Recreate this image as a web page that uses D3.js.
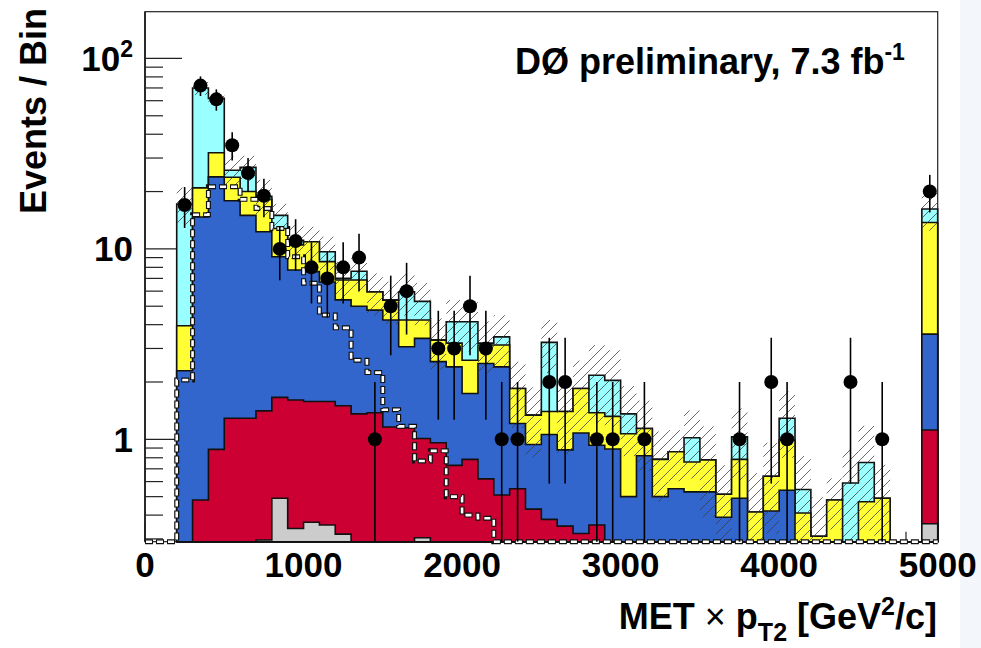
<!DOCTYPE html>
<html>
<head>
<meta charset="utf-8">
<script src="https://cdn.jsdelivr.net/npm/d3@7/dist/d3.min.js"></script>
<style>
body { margin: 0; background: #fff; }
svg { display: block; }
text { font-family: "Liberation Sans", Arial, Helvetica, sans-serif; font-weight: bold; fill: #000; }
</style>
</head>
<body>
<svg id="chart" width="981" height="648"></svg>
<script>
// bins of 100 GeV^2/c, low edges
var binLow = [200, 300, 400, 500, 600, 700, 800, 900, 1000, 1100, 1200, 1300, 1400, 1500, 1600, 1700,
	1800, 1900, 2000, 2100, 2200, 2300, 2400, 2500, 2600, 2700, 2800, 2900, 3000, 3100, 3200, 3300,
	3400, 3500, 3600, 3700, 3800, 3900, 4000, 4100, 4200, 4300, 4400, 4500, 4600, 4700, 4800, 4900];
var binWidth = 100;

// stacked backgrounds, cumulative heights as drawn (each includes everything below it)
var stackCyan = [17.2, 70, 61.7, 25.9, 26.8, 18.9, 15.0, 11.1, 10.9, 9.66, 7.0, 7.63, 5.95, 5.38, 5.95, 5.3,
	3.32, 4.14, 4.14, 3.2, 3.45, 1.85, 1.34, 3.23, 1.40, 1.85, 2.17, 2.04, 1.36, 1.14, 0.785, 0.86,
	1.02, 0.78, 0.515, 1.03, 0.415, 0.64, 1.29, 0.545, 0.31, 0.48, 0.59, 0.755, 0.49, 0, 0, 16.2];
var stackYellow = [3.95, 20.9, 32, 23.8, 20, 18.2, 12.8, 10.5, 10.9, 8.57, 6.86, 6.86, 5.95, 5.38, 4.23, 4.23,
	3.32, 3.2, 2.6, 3.13, 3.13, 1.85, 1.34, 1.40, 1.40, 1.85, 1.38, 1.32, 1.07, 1.14, 0.785, 0.86,
	0.76, 0.78, 0.515, 0.785, 0.415, 0.64, 0.99, 0.41, 0.31, 0.48, 0, 0.47, 0.49, 0, 0, 13.75];
var stackBlue = [2.29, 14.7, 23.9, 17.9, 15, 12.3, 9.1, 7.75, 7.6, 6.7, 5.4, 5.0, 4.77, 4.23, 3.06, 3.39,
	2.56, 2.4, 1.74, 2.5, 2.4, 1.21, 0.94, 1.06, 0.88, 1.08, 0.93, 0.89, 0.50, 0.82, 0.50, 0.55,
	0.53, 0.53, 0.39, 0.49, 0, 0.42, 0.54, 0, 0, 0, 0, 0, 0, 0, 0, 3.57];
var stackRed = [0, 0.48, 0.886, 1.29, 1.29, 1.41, 1.66, 1.61, 1.58, 1.58, 1.50, 1.36, 1.38, 1.16, 1.15, 1.01,
	0.96, 0.73, 0.785, 0.62, 0.51, 0.55, 0.43, 0.38, 0.35, 0.32, 0.355, 0, 0, 0, 0, 0,
	0, 0, 0, 0, 0, 0, 0, 0, 0, 0, 0, 0, 0, 0, 0, 1.12];
var stackGray = [0, 0, 0, 0, 0, 0.296, 0.49, 0.34, 0.367, 0.355, 0.318, 0, 0, 0, 0, 0.304,
	0, 0, 0, 0, 0, 0, 0, 0, 0, 0, 0, 0, 0, 0, 0, 0,
	0, 0, 0, 0, 0, 0, 0, 0, 0, 0, 0, 0, 0, 0, 0, 0.36];

// relative uncertainty on total background (hatched band)
var bkgRelErr = [0.22, 0.08, 0.08, 0.18, 0.15, 0.22, 0.15, 0.2, 0.2, 0.2, 0.22, 0.22, 0.25, 0.25, 0.25, 0.25,
	0.3, 0.3, 0.3, 0.3, 0.3, 0.38, 0.4, 0.31, 0.4, 0.4, 0.44, 0.44, 0.4, 0.4, 0.4, 0.3,
	0.39, 0.5, 0.42, 0.41, 0.6, 0.5, 0.38, 0.5, 0.6, 0.3, 0.5, 0.56, 0.5, 0, 0, 0.23];

// signal (white dashed)
var signal = [2.05, 15.1, 21.2, 21.2, 18.2, 16.3, 12.8, 9.1, 6.6, 4.5, 3.85, 2.6, 2.24, 1.43, 1.17, 0.77,
	0.87, 0.50, 0.40, 0.385, 0, 0, 0, 0, 0, 0, 0, 0, 0, 0, 0, 0,
	0, 0, 0, 0, 0, 0, 0, 0, 0, 0, 0, 0, 0, 0, 0, 0];

// data counts
var dataCounts = [17, 72, 61, 35, 25, 19, 10, 11, 8, 7, 8, 9, 1, 5, 6, 0,
	3, 3, 5, 3, 1, 1, 0, 2, 2, 0, 1, 1, 0, 1, 0, 0,
	0, 0, 0, 1, 0, 2, 1, 0, 0, 0, 2, 0, 1, 0, 0, 20];

var xTicks = [0, 1000, 2000, 3000, 4000, 5000];
var yTickLabels = [{v: 1, t: "1"}, {v: 10, t: "10"}, {v: 100, t: "10", sup: "2"}];

var svg = d3.select('#chart');
var x = d3.scaleLinear().domain([0, 5000]).range([145, 937.7]);
var y = d3.scaleLog().domain([0.29, 176]).range([541.7, 11.7]);
var yBot = y(0.29);
function yc(v) { return v > 0.29 ? y(Math.min(v, 176)) : yBot; }

// slide background strip on the right
svg.append("rect").attr("x", 960).attr("y", 0).attr("width", 21).attr("height", 648).attr("fill", "#f3f6fb");

// axes first, histograms get drawn over them
var ax = svg.append("g");
ax.append("rect").attr("x", x(0)).attr("y", y(176)).attr("width", x(5000) - x(0)).attr("height", yBot - y(176))
	.attr("fill", "#fff").attr("stroke", "#222").attr("stroke-width", 1.2);
ax.append("line").attr("x1", x(0)).attr("x2", x(0)).attr("y1", y(176)).attr("y2", yBot)
	.attr("stroke", "#222").attr("stroke-width", 1.8);
var yMinor = [0.3, 0.4, 0.5, 0.6, 0.7, 0.8, 0.9, 2, 3, 4, 5, 6, 7, 8, 9, 20, 30, 40, 50, 60, 70, 80, 90];
ax.selectAll(".ymin").data(yMinor).enter().append("line")
	.attr("x1", x(0)).attr("x2", x(0) + 18).attr("y1", function(d) { return y(d); }).attr("y2", function(d) { return y(d); })
	.attr("stroke", "#222").attr("stroke-width", 1.2);
ax.selectAll(".ymaj").data([1, 10, 100]).enter().append("line")
	.attr("x1", x(0)).attr("x2", x(0) + 37).attr("y1", function(d) { return y(d); }).attr("y2", function(d) { return y(d); })
	.attr("stroke", "#222").attr("stroke-width", 1.2);
ax.selectAll(".xmin").data(d3.range(0, 5001, 200)).enter().append("line")
	.attr("x1", function(d) { return x(d); }).attr("x2", function(d) { return x(d); })
	.attr("y1", yBot).attr("y2", function(d) { return d % 1000 ? yBot - 10 : yBot - 19; })
	.attr("stroke", "#222").attr("stroke-width", 1.2);

function stepPath(vals, startAt) {
	var pts = [];
	if (startAt != null) pts.push([x(startAt), yBot]);
	pts.push([x(binLow[0]), yBot]);
	vals.forEach(function(v, i) {
		pts.push([x(binLow[i]), yc(v)]);
		pts.push([x(binLow[i] + binWidth), yc(v)]);
	});
	pts.push([x(binLow[binLow.length - 1] + binWidth), yBot]);
	return d3.line()(pts);
}

var layers = [
	{vals: stackCyan, color: "#99ffff"},
	{vals: stackYellow, color: "#ffff33"},
	{vals: stackBlue, color: "#3366cc"},
	{vals: stackRed, color: "#cc0033"},
	{vals: stackGray, color: "#cccccc"}
];
var hg = svg.append("g");
layers.forEach(function(l) {
	hg.append("path").attr("d", stepPath(l.vals) + "Z")
		.attr("fill", l.color).attr("stroke", "#111").attr("stroke-width", 1.6).attr("stroke-linejoin", "miter");
});

// hatched uncertainty band
var defs = svg.append("defs");
var pat = defs.append("pattern").attr("id", "hatch").attr("patternUnits", "userSpaceOnUse")
	.attr("width", 10).attr("height", 10);
pat.append("path").attr("d", "M-1,1 l2,-2 M0,10 l10,-10 M9,11 l2,-2")
	.attr("stroke", "#3a3a3a").attr("stroke-width", 0.75);
svg.append("g").selectAll("rect").data(binLow).enter().append("rect")
	.filter(function(d, i) { return stackCyan[i] > 0 && bkgRelErr[i] > 0; })
	.attr("x", function(d) { return x(d); })
	.attr("width", x(binWidth) - x(0))
	.attr("y", function(d) { var i = binLow.indexOf(d); return yc(stackCyan[i] * (1 + bkgRelErr[i])); })
	.attr("height", function(d) {
		var i = binLow.indexOf(d);
		return yc(stackCyan[i] * (1 - bkgRelErr[i])) - yc(stackCyan[i] * (1 + bkgRelErr[i]));
	})
	.attr("fill", "url(#hatch)");

// signal, dashed black/white
var sigPath = stepPath(signal, 0);
svg.append("path").attr("d", sigPath).attr("fill", "none").attr("stroke", "#111")
	.attr("stroke-width", 5).attr("stroke-dasharray", "8,3");
svg.append("path").attr("d", sigPath).attr("fill", "none").attr("stroke", "#fff")
	.attr("stroke-width", 2.6).attr("stroke-dasharray", "6,5").attr("stroke-dashoffset", -1);

// data points with sqrt(N) errors
var pts = binLow.map(function(d, i) { return {c: d + binWidth / 2, n: dataCounts[i]}; })
	.filter(function(p) { return p.n > 0; });
var dg = svg.append("g");
dg.selectAll("line").data(pts).enter().append("line")
	.attr("x1", function(p) { return x(p.c); }).attr("x2", function(p) { return x(p.c); })
	.attr("y1", function(p) { return yc(p.n + Math.sqrt(p.n)); })
	.attr("y2", function(p) { return yc(p.n - Math.sqrt(p.n)); })
	.attr("stroke", "#000").attr("stroke-width", 1.6);
dg.selectAll("circle").data(pts).enter().append("circle")
	.attr("cx", function(p) { return x(p.c); }).attr("cy", function(p) { return yc(p.n); })
	.attr("r", 7).attr("fill", "#000");

// labels
svg.selectAll(".xl").data(xTicks).enter().append("text")
	.attr("x", function(d) { return x(d); }).attr("y", 577)
	.attr("text-anchor", "middle").attr("font-size", 35).text(function(d) { return d; });
var yl = svg.selectAll(".yl").data(yTickLabels).enter().append("text")
	.attr("x", 133).attr("y", function(d) { return y(d.v) + 12.5; })
	.attr("text-anchor", "end").attr("font-size", 35);
yl.append("tspan").text(function(d) { return d.t; });
yl.filter(function(d) { return d.sup; }).append("tspan").attr("dy", -14).attr("font-size", 23)
	.text(function(d) { return d.sup; });

svg.append("text").attr("transform", "translate(46,8) rotate(-90)").attr("text-anchor", "end")
	.attr("font-size", 36).text("Events / Bin");

var xt = svg.append("text").attr("x", 937).attr("y", 629).attr("text-anchor", "end").attr("font-size", 36);
xt.append("tspan").text("MET ");
xt.append("tspan").attr("font-weight", "normal").text("\u00d7");
xt.append("tspan").text(" p");
xt.append("tspan").attr("dy", 12).attr("font-size", 25).text("T2");
xt.append("tspan").attr("dy", -12).text(" [GeV");
xt.append("tspan").attr("dy", -14).attr("font-size", 25).text("2");
xt.append("tspan").attr("dy", 14).text("/c]");

var lab = svg.append("text").attr("x", 515).attr("y", 74).attr("font-size", 36);
lab.append("tspan").text("D\u00d8 preliminary, 7.3 fb");
lab.append("tspan").attr("dy", -14).attr("font-size", 23).text("-1");
</script>
</body>
</html>
